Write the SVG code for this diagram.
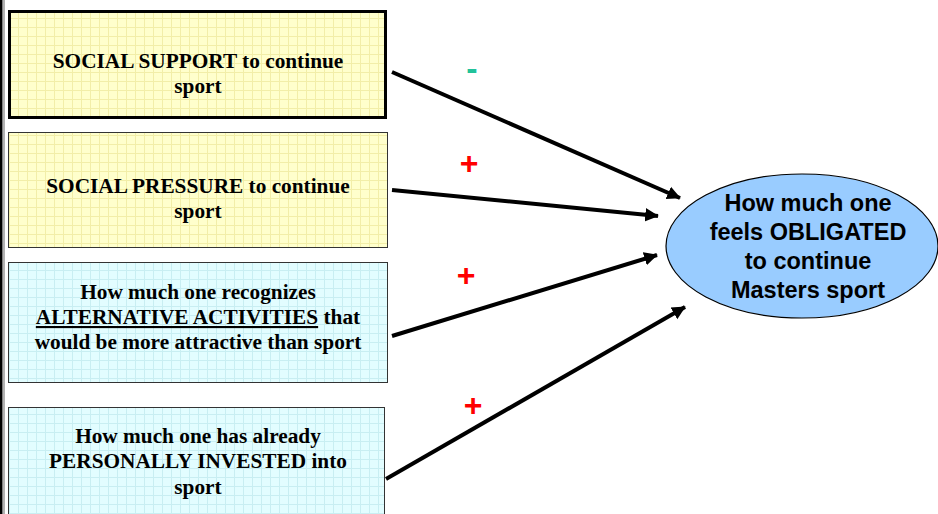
<svg xmlns="http://www.w3.org/2000/svg" width="938" height="514" viewBox="0 0 938 514">
<style>
.bt{font-family:"Liberation Serif","Times New Roman",serif;font-weight:bold;font-size:21.3px;fill:#000;text-anchor:middle}
.et{font-family:"Liberation Sans",Arial,sans-serif;font-weight:bold;font-size:23.5px;fill:#000;text-anchor:middle}
.conn{stroke:#000;stroke-width:4;fill:none;marker-end:url(#ah)}
.plus{font-family:"Liberation Sans",Arial,sans-serif;font-weight:bold;font-size:32px;fill:#FF0000;text-anchor:middle}
</style>
<defs>
<pattern id="gy" width="9" height="9" patternUnits="userSpaceOnUse">
<rect width="9" height="9" fill="#FFFFCC"/>
<path d="M0 0.5H9M0.5 0V9" stroke="#F2EEA8" stroke-width="1"/>
</pattern>
<pattern id="gc" width="9" height="9" patternUnits="userSpaceOnUse">
<rect width="9" height="9" fill="#E2FDFF"/>
<path d="M0 0.5H9M0.5 0V9" stroke="#C8EEF2" stroke-width="1"/>
</pattern>
<marker id="ah" markerWidth="4" markerHeight="4" refX="3.2" refY="2" orient="auto" markerUnits="strokeWidth">
<path d="M0 0.3L3.4 2L0 3.7Z" fill="#000"/>
</marker>
</defs>
<rect width="938" height="514" fill="#FFFFFF"/>
<rect x="0" y="0" width="2.5" height="514" fill="#000"/>
<rect x="3.5" y="0" width="1" height="514" fill="#666"/>

<g id="node-social-support">
<rect x="9.5" y="11.5" width="376" height="106" fill="url(#gy)" stroke="#000" stroke-width="3"/>
<text class="bt" x="198" y="68">SOCIAL SUPPORT to continue</text>
<text class="bt" x="198" y="93">sport</text>
</g>
<g id="node-social-pressure">
<rect x="8.5" y="132.5" width="379" height="115" fill="url(#gy)" stroke="#333" stroke-width="1"/>
<text class="bt" x="198" y="193">SOCIAL PRESSURE to continue</text>
<text class="bt" x="198" y="218">sport</text>
</g>
<g id="node-alternative">
<rect x="8.5" y="262.5" width="379" height="120" fill="url(#gc)" stroke="#333" stroke-width="1"/>
<text class="bt" x="198" y="299">How much one recognizes</text>
<text class="bt" x="198" y="324"><tspan text-decoration="underline">ALTERNATIVE ACTIVITIES</tspan> that</text>
<text class="bt" x="198" y="349">would be more attractive than sport</text>
</g>
<g id="node-invested">
<rect x="8.5" y="407.5" width="376" height="120" fill="url(#gc)" stroke="#333" stroke-width="1"/>
<text class="bt" x="198" y="443">How much one has already</text>
<text class="bt" x="198" y="468">PERSONALLY INVESTED into</text>
<text class="bt" x="198" y="494">sport</text>
</g>
<g id="node-obligated">
<ellipse cx="802" cy="246" rx="136" ry="72" fill="#99CCFF" stroke="#000" stroke-width="1.2"/>
<text class="et" x="808" y="211">How much one</text>
<text class="et" x="808" y="240">feels OBLIGATED</text>
<text class="et" x="808" y="269">to continue</text>
<text class="et" x="808" y="298">Masters sport</text>
</g>
<g id="connectors">
<line class="conn" x1="392" y1="72" x2="680" y2="198"/>
<line class="conn" x1="392" y1="190" x2="658" y2="216"/>
<line class="conn" x1="392" y1="336" x2="657" y2="255"/>
<line class="conn" x1="386" y1="479" x2="685" y2="307"/>
<text x="472" y="80" font-family="Liberation Sans,Arial,sans-serif" font-weight="bold" font-size="34" fill="#22C29A" text-anchor="middle">-</text>
<text class="plus" x="469" y="174">+</text>
<text class="plus" x="466" y="286">+</text>
<text class="plus" x="473" y="416">+</text>
</g>
</svg>
